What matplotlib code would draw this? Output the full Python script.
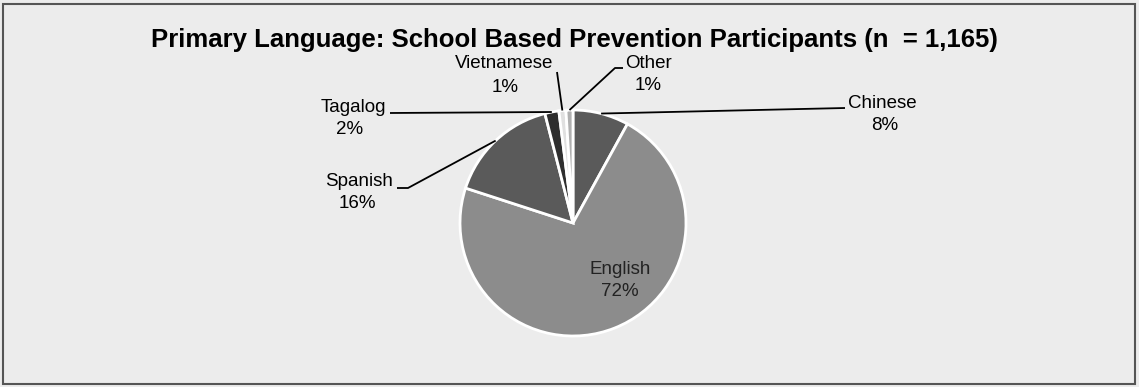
import numpy as np
import matplotlib
matplotlib.use("Agg")
import matplotlib.pyplot as plt
from matplotlib.patches import Rectangle

languages = ["Chinese", "English", "Spanish", "Tagalog", "Vietnamese", "Other"]
shares = [8, 72, 16, 2, 1, 1]
colors = ["#5a5a5a", "#8c8c8c", "#5a5a5a", "#2e2e2e", "#e0e0e0", "#b0b0b0"]
title = "Primary Language: School Based Prevention Participants (n  = 1,165)"

W, H = 1139, 387
fig = plt.figure(figsize=(W / 100, H / 100), dpi=100)
fig.patch.set_facecolor("#ececec")
ax = fig.add_axes([0, 0, 1, 1])

def Y(y):
    # pixel row from the top -> axes y
    return H - y

cx, cy, r = 573, Y(223), 113
wedges, _ = ax.pie(shares, colors=colors, startangle=90, counterclock=False,
                   center=(cx, cy), radius=r, frame=True,
                   wedgeprops=dict(edgecolor="white", linewidth=2))
ax.set_xlim(0, W)
ax.set_ylim(0, H)
ax.set_aspect("equal")
ax.axis("off")

font = dict(family="Liberation Sans", fontsize=13.5, color="black")

# leader line bend points, name anchor (x, y, ha) and percent centre (x, y)
leaders = {
    "Chinese": [(845, 108)],
    "Tagalog": [(390, 113)],
    "Spanish": [(408, 188), (397, 188)],
    "Vietnamese": [(557, 72)],
    "Other": [(615, 68), (623, 68)],
}
name_pos = {
    "Chinese": (848, 103, "left"),
    "Tagalog": (386, 108, "right"),
    "Spanish": (393, 182, "right"),
    "Vietnamese": (553, 63, "right"),
    "Other": (625, 63, "left"),
}
pct_pos = {
    "Chinese": (885, 125),
    "Tagalog": (350, 130),
    "Spanish": (357, 204),
    "Vietnamese": (505, 87),
    "Other": (648, 86),
}

for w, name, val in zip(wedges, languages, shares):
    if name == "English":
        ax.text(620, Y(270), name, ha="center", va="center", **{**font, "color": "#222222"})
        ax.text(620, Y(292), f"{val}%", ha="center", va="center", **{**font, "color": "#222222"})
        continue
    mid = np.deg2rad((w.theta1 + w.theta2) / 2)
    xs = [cx + r * np.cos(mid)] + [p[0] for p in leaders[name]]
    ys = [cy + r * np.sin(mid)] + [Y(p[1]) for p in leaders[name]]
    ax.plot(xs, ys, color="black", lw=1.3, solid_capstyle="butt")
    tx, ty, ha = name_pos[name]
    ax.text(tx, Y(ty), name, ha=ha, va="center", **font)
    px, py = pct_pos[name]
    ax.text(px, Y(py), f"{val}%", ha="center", va="center", **font)

ax.text(574, Y(47), title, ha="center", va="baseline", family="Liberation Sans",
        fontsize=18.5, fontweight="bold")

ax.add_patch(Rectangle((3, 3), W - 7, H - 7, fill=False, edgecolor="#555555", lw=1.5))

fig.savefig("out.png", dpi=100, facecolor=fig.get_facecolor())
